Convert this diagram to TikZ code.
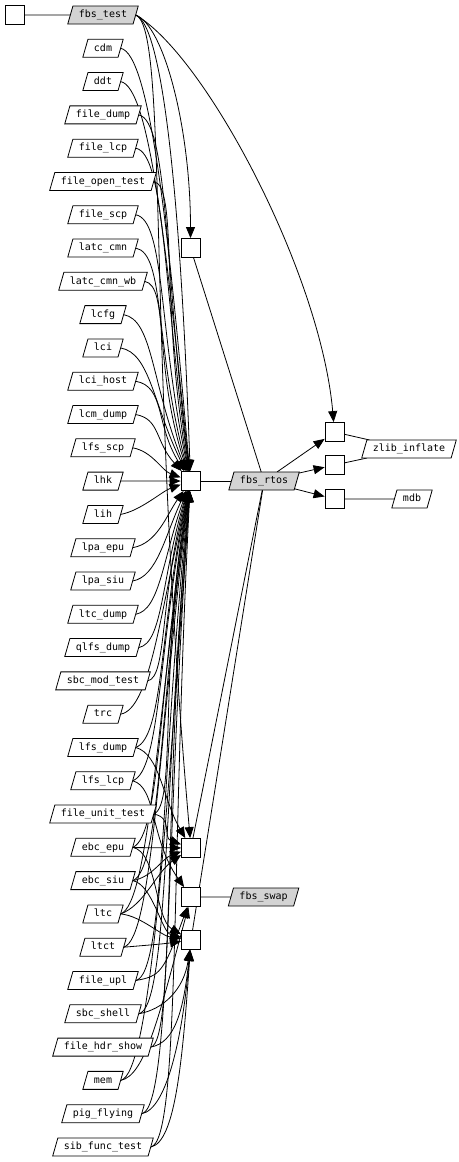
\documentclass[tikz,border=0pt]{standalone}
\usepackage{fontspec}
\newfontfamily\graphfont{DejaVu Sans Mono}
\usepackage{xcolor}
\definecolor{cLine}{HTML}{000000}
\definecolor{cRoot}{HTML}{D3D3D3}
\usepackage{tikz}
\usetikzlibrary{positioning,arrows.meta,shapes.geometric,backgrounds}
\tikzset{
  node-fn/.style={draw=cLine,line width=0.8pt,fill=white,trapezium,
    trapezium left angle=74,trapezium right angle=106,outer sep=0pt,
    inner xsep=6pt,inner ysep=3.75pt,text height=8pt,text depth=2.5pt,
    font=\graphfont\fontsize{10pt}{11pt}\selectfont},
  node-root/.style={fill=cRoot},
  node-hub/.style={draw=cLine,line width=0.8pt,fill=white,
    minimum size=19pt,inner sep=0pt},
  arrow/.style={-{Triangle[length=11pt,width=9pt]},line width=0.8pt,draw=cLine},
  arrow-link/.style={line width=0.8pt,draw=cLine},
}
\begin{document}
\begin{tikzpicture}[x=1pt,y=1pt,node distance=15.29pt]
  \useasboundingbox (0,0) rectangle (458,-1162);
  % left column of callers
  \node[node-fn,node-root] (test) at (103,-15) {fbs\_test};
  \node[node-fn,below=of test] (cdm) {cdm};
  \node[node-fn,below=of cdm] (ddt) {ddt};
  \node[node-fn,below=of ddt] (fdump) {file\_dump};
  \node[node-fn,below=of fdump] (flcp) {file\_lcp};
  \node[node-fn,below=of flcp] (fopen) {file\_open\_test};
  \node[node-fn,below=of fopen] (fscp) {file\_scp};
  \node[node-fn,below=of fscp] (latc) {latc\_cmn};
  \node[node-fn,below=of latc] (latcwb) {latc\_cmn\_wb};
  \node[node-fn,below=of latcwb] (lcfg) {lcfg};
  \node[node-fn,below=of lcfg] (lci) {lci};
  \node[node-fn,below=of lci] (lcihost) {lci\_host};
  \node[node-fn,below=of lcihost] (lcmdump) {lcm\_dump};
  \node[node-fn,below=of lcmdump] (lfsscp) {lfs\_scp};
  \node[node-fn,below=of lfsscp] (lhk) {lhk};
  \node[node-fn,below=of lhk] (lih) {lih};
  \node[node-fn,below=of lih] (lpaepu) {lpa\_epu};
  \node[node-fn,below=of lpaepu] (lpasiu) {lpa\_siu};
  \node[node-fn,below=of lpasiu] (ltcdump) {ltc\_dump};
  \node[node-fn,below=of ltcdump] (qlfs) {qlfs\_dump};
  \node[node-fn,below=of qlfs] (sbcmod) {sbc\_mod\_test};
  \node[node-fn,below=of sbcmod] (trc) {trc};
  \node[node-fn,below=of trc] (lfsdump) {lfs\_dump};
  \node[node-fn,below=of lfsdump] (lfslcp) {lfs\_lcp};
  \node[node-fn,below=of lfslcp] (funit) {file\_unit\_test};
  \node[node-fn,below=of funit] (ebcepu) {ebc\_epu};
  \node[node-fn,below=of ebcepu] (ebcsiu) {ebc\_siu};
  \node[node-fn,below=of ebcsiu] (ltc) {ltc};
  \node[node-fn,below=of ltc] (ltct) {ltct};
  \node[node-fn,below=of ltct] (fupl) {file\_upl};
  \node[node-fn,below=of fupl] (sbcshell) {sbc\_shell};
  \node[node-fn,below=of sbcshell] (fhdr) {file\_hdr\_show};
  \node[node-fn,below=of fhdr] (mem) {mem};
  \node[node-fn,below=of mem] (pig) {pig\_flying};
  \node[node-fn,below=of pig] (sib) {sib\_func\_test};
  % hubs
  \node[node-hub] (hubtl) at (14.5,-15) {};
  \node[node-hub] (hubtop) at (190.5,-248) {};
  \node[node-hub] (hub) at (190.5,-481) {};
  \node[node-hub] (hubz1) at (334.5,-432) {};
  \node[node-hub] (hubz2) at (334.5,-465) {};
  \node[node-hub] (hubm) at (334.5,-499) {};
  \node[node-hub] (huba) at (191,-848) {};
  \node[node-hub] (hubb) at (191,-897) {};
  \node[node-hub] (hubc) at (191,-940) {};
  % callees
  \node[node-fn,node-root,right=31pt of hub] (rtos) {fbs\_rtos};
  \node[node-fn,node-root,right=30pt of hubb] (swap) {fbs\_swap};
  \node[node-fn] (zlib) at (409,-449) {zlib\_inflate};
  \node[node-fn,right=50pt of hubm] (mdb) {mdb};
  \begin{scope}[on background layer]
  \draw[arrow-link] (hubtl) -- (test);
  \draw[arrow] (test.east) to[out=-20,in=90,out distance=30pt,in distance=110pt] (hubtop);
  \draw[arrow] (test.east) to[out=-30,in=95,out distance=80pt,in distance=150pt] (hubz1);
  \draw[arrow] (test.east) to[out=-20,in=92,out distance=30pt,in distance=260pt] (hub);
  \draw[arrow] (test.east) to[out=-20,in=95,out distance=35pt,in distance=500pt] (huba);
  % callers above the hub
  \draw[arrow] (cdm.east) to[out=-10,in=95,out distance=30pt,in distance=240pt] (hub);
  \draw[arrow] (ddt.east) to[out=-10,in=96,out distance=30pt,in distance=220pt] (hub);
  \draw[arrow] (fdump.east) to[out=-10,in=97,out distance=30pt,in distance=200pt] (hub);
  \draw[arrow] (flcp.east) to[out=-10,in=98,out distance=30pt,in distance=185pt] (hub);
  \draw[arrow] (fopen.east) to[out=-10,in=100,out distance=25pt,in distance=165pt] (hub);
  \draw[arrow] (fscp.east) to[out=-10,in=102,out distance=30pt,in distance=145pt] (hub);
  \draw[arrow] (latc.east) to[out=-10,in=105,out distance=30pt,in distance=130pt] (hub);
  \draw[arrow] (latcwb.east) to[out=-10,in=108,out distance=25pt,in distance=110pt] (hub);
  \draw[arrow] (lcfg.east) to[out=-10,in=112,out distance=30pt,in distance=95pt] (hub);
  \draw[arrow] (lci.east) to[out=-10,in=116,out distance=30pt,in distance=75pt] (hub);
  \draw[arrow] (lcihost.east) to[out=-10,in=122,out distance=30pt,in distance=55pt] (hub);
  \draw[arrow] (lcmdump.east) to[out=-10,in=132,out distance=25pt,in distance=40pt] (hub);
  \draw[arrow] (lfsscp.east) to[out=-10,in=160,out distance=20pt,in distance=20pt] (hub);
  \draw[arrow] (lhk) -- (hub);
  \draw[arrow] (lih.east) to[out=10,in=200,out distance=20pt,in distance=20pt] (hub);
  % callers below the hub
  \draw[arrow] (lpaepu.east) to[out=10,in=235,out distance=25pt,in distance=30pt] (hub);
  \draw[arrow] (lpasiu.east) to[out=10,in=245,out distance=25pt,in distance=50pt] (hub);
  \draw[arrow] (ltcdump.east) to[out=10,in=250,out distance=25pt,in distance=70pt] (hub);
  \draw[arrow] (qlfs.east) to[out=10,in=253,out distance=25pt,in distance=90pt] (hub);
  \draw[arrow] (sbcmod.east) to[out=10,in=255,out distance=20pt,in distance=110pt] (hub);
  \draw[arrow] (trc.east) to[out=10,in=257,out distance=30pt,in distance=125pt] (hub);
  \draw[arrow] (lfsdump.east) to[out=20,in=258,out distance=30pt,in distance=140pt] (hub);
  \draw[arrow] (lfslcp.east) to[out=20,in=259,out distance=30pt,in distance=160pt] (hub);
  \draw[arrow] (funit.east) to[out=20,in=260,out distance=25pt,in distance=175pt] (hub);
  \draw[arrow] (ebcepu.east) to[out=20,in=261,out distance=30pt,in distance=190pt] (hub);
  \draw[arrow] (ebcsiu.east) to[out=20,in=262,out distance=30pt,in distance=210pt] (hub);
  \draw[arrow] (ltc.east) to[out=20,in=262,out distance=30pt,in distance=230pt] (hub);
  \draw[arrow] (ltct.east) to[out=15,in=263,out distance=30pt,in distance=250pt] (hub);
  \draw[arrow] (fupl.east) to[out=10,in=264,out distance=30pt,in distance=270pt] (hub);
  \draw[arrow] (sbcshell.east) to[out=10,in=265,out distance=30pt,in distance=290pt] (hub);
  \draw[arrow] (fhdr.east) to[out=10,in=265,out distance=25pt,in distance=310pt] (hub);
  \draw[arrow] (mem.east) to[out=10,in=266,out distance=30pt,in distance=330pt] (hub);
  \draw[arrow] (pig.east) to[out=10,in=266,out distance=30pt,in distance=350pt] (hub);
  \draw[arrow] (sib.east) to[out=10,in=267,out distance=30pt,in distance=370pt] (hub);
  % lower hubs
  \draw[arrow] (lfsdump.east) to[out=-15,in=120,out distance=25pt,in distance=45pt] (huba);
  \draw[arrow] (lfslcp.east) to[out=-15,in=125,out distance=25pt,in distance=60pt] (hubb);
  \draw[arrow] (funit.east) to[out=-10,in=160,out distance=20pt,in distance=20pt] (huba);
  \draw[arrow] (ebcepu) -- (huba);
  \draw[arrow] (ebcepu.east) to[out=-10,in=150,out distance=25pt,in distance=30pt] (hubc);
  \draw[arrow] (ebcsiu.east) to[out=10,in=200,out distance=20pt,in distance=20pt] (huba);
  \draw[arrow] (ebcsiu.east) to[out=-10,in=165,out distance=20pt,in distance=20pt] (hubc);
  \draw[arrow] (ltc.east) to[out=20,in=215,out distance=25pt,in distance=30pt] (huba);
  \draw[arrow] (ltc.east) to[out=-5,in=172,out distance=20pt,in distance=20pt] (hubc);
  \draw[arrow] (ltct.east) to[out=5,in=188,out distance=20pt,in distance=20pt] (hubc);
  \draw[arrow] (fupl.east) to[out=10,in=250,out distance=25pt,in distance=70pt] (hubb);
  \draw[arrow] (sbcshell.east) to[out=10,in=262,out distance=25pt,in distance=40pt] (hubc);
  \draw[arrow] (fhdr.east) to[out=10,in=264,out distance=25pt,in distance=60pt] (hubc);
  \draw[arrow] (mem.east) to[out=10,in=255,out distance=25pt,in distance=110pt] (hubb);
  \draw[arrow] (pig.east) to[out=10,in=265,out distance=25pt,in distance=90pt] (hubc);
  \draw[arrow] (sib.east) to[out=10,in=266,out distance=25pt,in distance=110pt] (hubc);
  % callees
  \draw[arrow-link] (hubtop) -- (rtos);
  \draw[arrow-link] (hub) -- (rtos);
  \draw[arrow-link] (rtos) -- (huba);
  \draw[arrow-link] (rtos) -- (hubc);
  \draw[arrow] (rtos) -- (hubz1);
  \draw[arrow] (rtos) -- (hubz2);
  \draw[arrow] (rtos) -- (hubm);
  \draw[arrow-link] (hubz1) -- (zlib);
  \draw[arrow-link] (hubz2) -- (zlib);
  \draw[arrow-link] (hubm) -- (mdb);
  \draw[arrow-link] (hubb) -- (swap);
  \end{scope}
\end{tikzpicture}
\end{document}
